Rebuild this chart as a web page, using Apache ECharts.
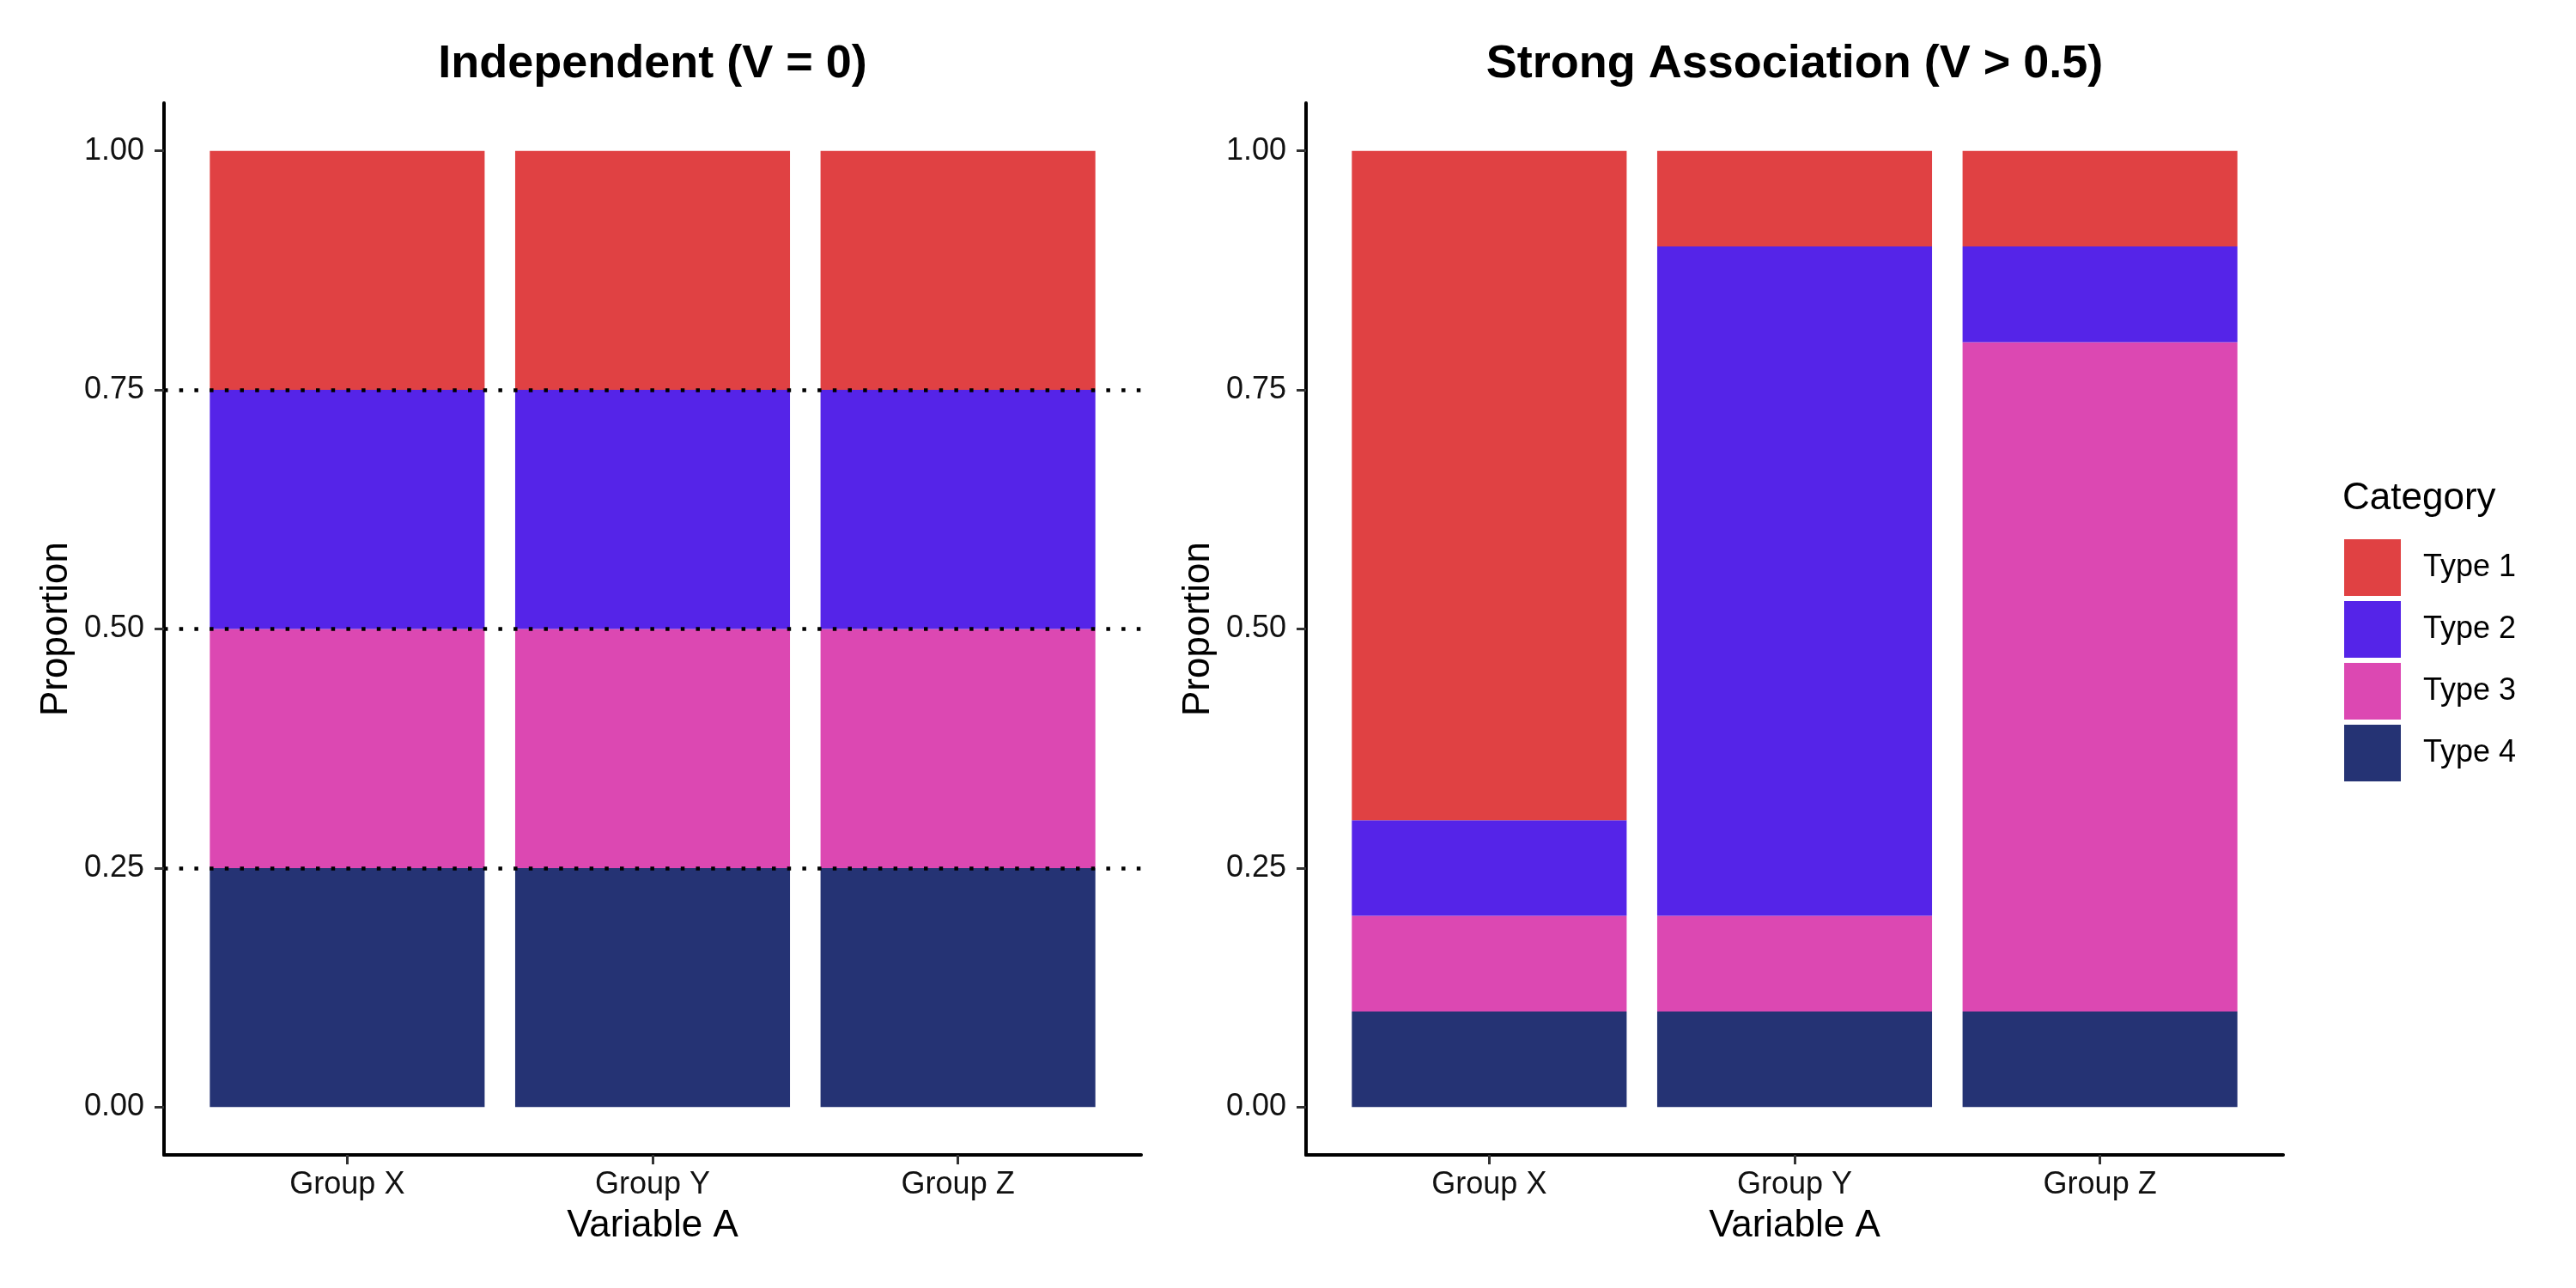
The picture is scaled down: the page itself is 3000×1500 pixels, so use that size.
<!DOCTYPE html>
<html>
<head>
<meta charset="utf-8">
<script src="https://cdn.jsdelivr.net/npm/echarts@6/dist/echarts.min.js"></script>
<style>
html,body{margin:0;padding:0;background:#fff;}
#chart{width:3000px;height:1500px;}
</style>
</head>
<body>
<div id="chart"></div>
<script>
// ---- data ----
const categories = ['Group X', 'Group Y', 'Group Z'];
const typeNames = ['Type 1', 'Type 2', 'Type 3', 'Type 4'];
const panelTitles = ['Independent (V = 0)', 'Strong Association (V > 0.5)'];
// left panel: independent
const indepType1 = [0.25, 0.25, 0.25];
const indepType2 = [0.25, 0.25, 0.25];
const indepType3 = [0.25, 0.25, 0.25];
const indepType4 = [0.25, 0.25, 0.25];
// right panel: strong association
const strongType1 = [0.7, 0.1, 0.1];
const strongType2 = [0.1, 0.7, 0.1];
const strongType3 = [0.1, 0.1, 0.7];
const strongType4 = [0.1, 0.1, 0.1];
const yTicks = [0, 0.25, 0.5, 0.75, 1.0];
const hlineValues = [0.25, 0.5, 0.75];
const colors = {'Type 1': '#E04143', 'Type 2': '#5524E8', 'Type 3': '#DC48B2', 'Type 4': '#253374'};

const FONT = 'Liberation Sans, Arial, Helvetica, sans-serif';

const panelData = [
  {'Type 1': indepType1, 'Type 2': indepType2, 'Type 3': indepType3, 'Type 4': indepType4},
  {'Type 1': strongType1, 'Type 2': strongType2, 'Type 3': strongType3, 'Type 4': strongType4}
];

// layout: outer panel (ggplot panel with 0.6 category expansion) and inner band area
const panelLefts = [191, 1521];
const panelWidth = 1138, panelTop = 120, panelHeight = 1225;
const expand = 0.6; // discrete expansion on each side
const unit = panelWidth / (categories.length - 1 + 2 * expand); // px per category unit
const innerOffset = (expand - 0.5) * unit;
const innerWidth = categories.length * unit;

const grids = [];
panelLefts.forEach(l => grids.push({left: l, top: panelTop, width: panelWidth, height: panelHeight, outerBoundsMode: 'none', containLabel: false}));
panelLefts.forEach(l => grids.push({left: l + innerOffset, top: panelTop, width: innerWidth, height: panelHeight, outerBoundsMode: 'none', containLabel: false}));

const axisLineStyle = {color: '#000', width: 4};
const labelColor = '#111';
const xAxes = [];
const yAxes = [];
// outer axes (lines, y ticks/labels, names)
[0, 1].forEach(i => {
  xAxes.push({
    type: 'value', gridIndex: i, min: 0.4, max: 3.6,
    name: 'Variable A', nameLocation: 'middle', nameGap: 61,
    nameTextStyle: {fontFamily: FONT, fontSize: 44, color: '#000'},
    axisLine: {show: true, onZero: false, lineStyle: axisLineStyle},
    axisTick: {show: false}, axisLabel: {show: false}, splitLine: {show: false}
  });
  yAxes.push({
    type: 'value', gridIndex: i, min: -0.05, max: 1.05,
    name: 'Proportion', nameLocation: 'middle', nameGap: 103, nameRotate: 90,
    nameTextStyle: {fontFamily: FONT, fontSize: 44, color: '#000'},
    axisLine: {show: true, onZero: false, lineStyle: axisLineStyle},
    axisTick: {show: true, length: 11, customValues: yTicks, lineStyle: {color: '#333', width: 3}},
    axisLabel: {show: true, customValues: yTicks, margin: 23, fontFamily: FONT, fontSize: 36, color: labelColor,
      formatter: v => v.toFixed(2)},
    splitLine: {show: false}
  });
});
// inner axes (category bands for bars)
[2, 3].forEach(i => {
  xAxes.push({
    type: 'category', gridIndex: i, data: categories, boundaryGap: true,
    axisLine: {show: false, onZero: false},
    axisTick: {show: true, alignWithLabel: true, length: 11, lineStyle: {color: '#333', width: 3}},
    axisLabel: {show: true, margin: 17, fontFamily: FONT, fontSize: 36, color: labelColor},
    splitLine: {show: false}
  });
  yAxes.push({
    type: 'value', gridIndex: i, min: -0.05, max: 1.05, show: false,
    splitLine: {show: false}
  });
});

const series = [];
panelData.forEach((pd, p) => {
  ['Type 4', 'Type 3', 'Type 2', 'Type 1'].forEach(t => {
    series.push({
      name: t, type: 'bar', stack: 'panel' + p,
      xAxisIndex: 2 + p, yAxisIndex: 2 + p,
      barWidth: '90%',
      itemStyle: {color: colors[t]},
      emphasis: {disabled: true},
      data: pd[t]
    });
  });
});
// reference lines for the left panel, spanning the whole panel
series.push({
  name: 'ref', type: 'line', xAxisIndex: 0, yAxisIndex: 0, data: [], z: 10, zlevel: 1,
  markLine: {
    silent: true, symbol: 'none', label: {show: false}, z: 10,
    lineStyle: {color: '#000', width: 4.5, type: [4.5, 13.2]},
    data: hlineValues.map(v => ({yAxis: v}))
  }
});

const option = {
  backgroundColor: '#fff',
  animation: false,
  title: [
    {text: panelTitles[0], left: 760, top: 48, textAlign: 'center', padding: 0,
      textStyle: {fontFamily: FONT, fontSize: 54, fontWeight: 'bold', color: '#000'}},
    {text: panelTitles[1], left: 2090, top: 48, textAlign: 'center', padding: 0,
      textStyle: {fontFamily: FONT, fontSize: 54, fontWeight: 'bold', color: '#000'}},
    {text: 'Category', left: 2728, top: 559, padding: 0,
      textStyle: {fontFamily: FONT, fontSize: 44, fontWeight: 'normal', color: '#000'}}
  ],
  legend: {
    data: typeNames.map(t => ({name: t, itemStyle: {color: colors[t]}})),
    orient: 'vertical', left: 2730, top: 628, padding: 0,
    itemWidth: 66, itemHeight: 66, itemGap: 6, icon: 'rect',
    selectedMode: false,
    textStyle: {fontFamily: FONT, fontSize: 36, color: '#000', padding: [0, 0, 0, 21]}
  },
  grid: grids,
  xAxis: xAxes,
  yAxis: yAxes,
  series: series
};

const chart = echarts.init(document.getElementById('chart'), null, {renderer: 'canvas'});
chart.setOption(option);
</script>
</body>
</html>
